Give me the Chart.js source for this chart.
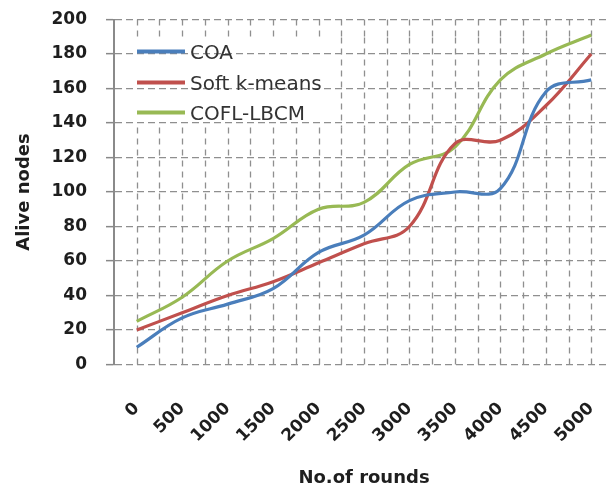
<!DOCTYPE html>
<html>
<head>
<meta charset="utf-8">
<script src="https://cdn.jsdelivr.net/npm/chart.js@4/dist/chart.umd.min.js"></script>
<style>
  html, body { margin: 0; padding: 0; background: #fff; overflow: hidden; }
  #wrap { width: 614px; height: 489px; }
</style>
</head>
<body>
<div id="wrap"><canvas id="c" width="614" height="489"></canvas></div>
<script>
// Number of rounds (x axis categories)
const rounds = [0, 500, 1000, 1500, 2000, 2500, 3000, 3500, 4000, 4500, 5000];

// Alive nodes per protocol
const coa        = [10, 27, 35, 44, 65, 75, 95, 100, 102, 158, 165];
const softKMeans = [20, 30, 40, 48, 59, 70, 80, 128, 130, 150, 180];
const coflLbcm   = [25, 39, 60, 73, 90, 94, 116, 126, 165, 180, 191];

const seriesNames = ['COA', 'Soft k-means', 'COFL-LBCM'];
const seriesColors = ['#4a7ebb', '#c0504d', '#98b954'];

// y axis: 0..200 in steps of 20
const yMin = 0, yMax = 200, yStep = 20;

const gridColor = '#8f8f8f';
const textColor = '#1e1e1e';
const tickFont = { family: 'DejaVu Sans', size: 17, weight: 'bold' };
const titleFont = { family: 'DejaVu Sans', size: 18, weight: 'bold' };

const toPoints = arr => rounds.map((r, i) => ({ x: r, y: arr[i] }));
const halfStep = (rounds[1] - rounds[0]) / 2;

// Grid positions: every round plus the boundaries half-way between rounds
const xGridValues = [];
rounds.forEach(r => { xGridValues.push(r - halfStep, r); });
xGridValues.push(rounds[rounds.length - 1] + halfStep);

// Dashed vertical grid, plus the legend inside the plot on a white panel
// that hides the vertical grid (horizontal grid stays visible through it)
const gridAndLegend = {
  id: 'gridAndLegend',
  beforeDatasetsDraw(chart) {
    const ctx = chart.ctx;
    const area = chart.chartArea;
    const xs = chart.scales.x, ys = chart.scales.y;

    const bx = area.left + 14, by = area.top + 18, bw = 208, bh = 90;
    ctx.save();
    ctx.lineWidth = 1.3;
    ctx.strokeStyle = gridColor;
    ctx.setLineDash([6, 5]);
    for (const v of xGridValues) {
      const px = Math.round(xs.getPixelForValue(v)) + 0.5;
      if (px < area.left + 2 || px > area.right) continue;
      ctx.beginPath();
      ctx.moveTo(px, area.top);
      ctx.lineTo(px, by);
      ctx.moveTo(px, by + bh);
      ctx.lineTo(px, area.bottom);
      ctx.stroke();
      if (px > bx + bw) {
        ctx.beginPath();
        ctx.moveTo(px, by);
        ctx.lineTo(px, by + bh);
        ctx.stroke();
      }
    }
    ctx.restore();
  },
  afterDatasetsDraw(chart) {
    const { ctx, chartArea } = chart;
    const x0 = chartArea.left + 23, x1 = chartArea.left + 71;
    const rowY = [chartArea.top + 32, chartArea.top + 63, chartArea.top + 93];
    ctx.save();
    ctx.font = '20px "DejaVu Sans"';
    ctx.textBaseline = 'middle';
    ctx.textAlign = 'left';
    chart.data.datasets.forEach((ds, i) => {
      const y = rowY[i];
      ctx.strokeStyle = ds.borderColor;
      ctx.lineWidth = 4;
      ctx.setLineDash([]);
      ctx.beginPath();
      ctx.moveTo(x0, y);
      ctx.lineTo(x1, y);
      ctx.stroke();
      ctx.fillStyle = '#333333';
      ctx.fillText(ds.label, x1 + 5, y + 2);
    });
    ctx.restore();
  }
};

new Chart(document.getElementById('c'), {
  type: 'line',
  data: {
    datasets: [coa, softKMeans, coflLbcm].map((arr, i) => ({
      label: seriesNames[i],
      data: toPoints(arr),
      borderColor: seriesColors[i],
      backgroundColor: seriesColors[i],
      borderWidth: 3.2,
      tension: 0.4,
      pointRadius: 0,
      fill: false
    }))
  },
  options: {
    responsive: false,
    animation: false,
    devicePixelRatio: 1,
    layout: { padding: { top: 19.5, right: 0, bottom: 0, left: 0 } },
    plugins: { legend: { display: false }, tooltip: { enabled: false } },
    scales: {
      x: {
        type: 'linear',
        min: xGridValues[0],
        max: xGridValues[xGridValues.length - 1],
        afterBuildTicks(scale) {
          scale.ticks = rounds.map(v => ({ value: v }));
        },
        afterFit(scale) {
          scale.height = 124.5;
          scale.paddingLeft = 0;
          scale.paddingRight = 0;
        },
        ticks: {
          autoSkip: false,
          minRotation: 45,
          maxRotation: 45,
          padding: 26,
          color: textColor,
          font: tickFont,
          callback: v => String(v)
        },
        grid: { display: false },
        border: { display: false },
        title: {
          display: true,
          text: 'No.of rounds',
          color: textColor,
          font: titleFont,
          padding: { top: 0, bottom: 0 }
        }
      },
      y: {
        min: yMin,
        max: yMax,
        afterFit(scale) {
          scale.width = 114;
          scale.paddingTop = 0;
          scale.paddingBottom = 0;
        },
        ticks: {
          stepSize: yStep,
          padding: 19,
          color: textColor,
          font: tickFont
        },
        grid: {
          color: gridColor,
          lineWidth: 1.3,
          tickLength: 8,
          tickColor: '#888888',
          tickWidth: 1.5,
          tickBorderDash: []
        },
        border: { display: true, color: '#8a8a8a', width: 2, dash: [7, 4] },
        title: {
          display: true,
          text: 'Alive nodes',
          color: textColor,
          font: titleFont,
          padding: { top: 14, bottom: 0 }
        }
      }
    }
  },
  plugins: [gridAndLegend]
});
</script>
</body>
</html>
